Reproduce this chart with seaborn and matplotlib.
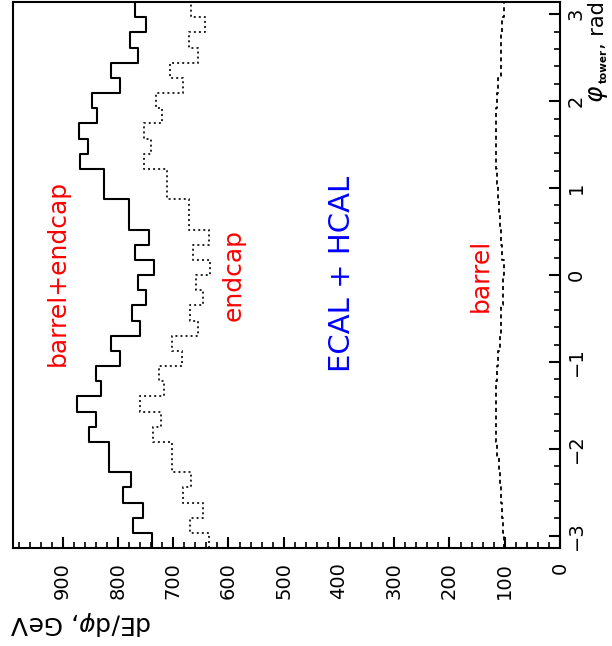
import numpy as np
import pandas as pd
import matplotlib
matplotlib.use("Agg")
import matplotlib.pyplot as plt
import seaborn as sns

# ---- data (36 phi bins, from -pi to +pi) ----
n_bins = 36
total = [738, 772, 754, 791, 777, 816, 816, 853, 839, 874, 830, 839, 797, 812, 761, 774, 750, 764,
         735, 770, 743, 780, 780, 826, 826, 868, 854, 870, 838, 847, 796, 812, 764, 779, 749, 770]
endcap = [636, 670, 647, 682, 668, 703, 703, 737, 723, 761, 716, 725, 685, 703, 655, 670, 646, 658,
          634, 665, 636, 671, 671, 712, 712, 753, 740, 753, 721, 732, 682, 705, 655, 671, 643, 668]
barrel = [101, 103, 105, 107, 109, 111, 114, 116, 116, 116, 115, 114, 112, 109, 107, 106, 104, 103,
          101, 105, 106, 108, 110, 113, 114, 115, 115, 115, 115, 114, 112, 106, 106, 106, 105, 102]
value_ticks = [0, 100, 200, 300, 400, 500, 600, 700, 800, 900]
phi_ticks = [-3, -2, -1, 0, 1, 2, 3]

edges = [float(e) for e in np.linspace(-np.pi, np.pi, n_bins + 1)]
centers = [0.5 * (edges[i] + edges[i + 1]) for i in range(n_bins)]

sns.set_style("white")
plt.rcParams["font.family"] = ["DejaVu Sans"]
plt.rcParams["mathtext.fontset"] = "dejavusans"
plt.rcParams["text.color"] = "black"
plt.rcParams["xtick.color"] = "black"
plt.rcParams["ytick.color"] = "black"
plt.rcParams["xtick.labelcolor"] = "black"
plt.rcParams["ytick.labelcolor"] = "black"

W, H = 612, 646
fig = plt.figure(figsize=(W / 100, H / 100), dpi=100)
ax = fig.add_axes([13 / W, (H - 548) / H, (560 - 13) / W, (548 - 2) / H])

df = pd.DataFrame({"phi": centers, "total": total, "endcap": endcap, "barrel": barrel})

sns.histplot(data=df, y="phi", weights="total", bins=edges, element="step", fill=False,
             color="black", linewidth=1.5, ax=ax)
sns.histplot(data=df, y="phi", weights="endcap", bins=edges, element="step", fill=False,
             color="#222222", linewidth=1.4, linestyle=(0, (1, 1.6)), ax=ax)
sns.histplot(data=df, y="phi", weights="barrel", bins=edges, element="step", fill=False,
             color="black", linewidth=1.3, linestyle=(0, (2.2, 2.0)), ax=ax)

ax.set_xlim(990, 0)
ax.set_ylim(-np.pi, np.pi)
ax.set_xlabel("")
ax.set_ylabel("")

for s in ax.spines.values():
    s.set_visible(True)
    s.set_linewidth(1.5)
    s.set_color("black")

ax.yaxis.tick_right()
ax.set_xticks(value_ticks)
ax.set_xticks(np.arange(0, 990, 20), minor=True)
ax.set_yticks(phi_ticks)
ax.set_yticks(np.arange(-3.0, 3.01, 0.2), minor=True)
ax.set_xticklabels([str(v) for v in value_ticks], rotation=90, fontsize=14, color="black")
ax.set_yticklabels([("\u2212" + str(-v)) if v < 0 else str(v) for v in phi_ticks],
                   rotation=90, fontsize=14, va="center", color="black")
ax.tick_params(axis="x", which="major", direction="in", length=8, width=1.5, pad=10,
               bottom=True, top=False)
ax.tick_params(axis="x", which="minor", direction="in", length=4, width=1.2,
               bottom=True, top=False)
ax.tick_params(axis="y", which="major", direction="in", length=8, width=1.5, pad=5,
               right=True, left=False, labelright=True, labelleft=False)
ax.tick_params(axis="y", which="minor", direction="in", length=4, width=1.2,
               right=True, left=False)

# annotations (rotated, like the reference)
ax.text(909, 0.02, "barrel+endcap", color="red", fontsize=18, rotation=90,
        ha="center", va="center")
ax.text(591, 0.0, "endcap", color="red", fontsize=18, rotation=90,
        ha="center", va="center")
ax.text(395, 0.01, "ECAL + HCAL", color="blue", fontsize=21, rotation=90,
        ha="center", va="center")
ax.text(143, -0.01, "barrel", color="red", fontsize=18, rotation=90,
        ha="center", va="center")

# axis titles
fig.text(10 / W, 1 - 623 / H, r"dE/d$\varphi$, GeV", fontsize=18, rotation=180,
         ha="left", va="center", color="black")
fig.text(598 / W, 1 - 1 / H, ", rad", fontsize=15, rotation=90,
         ha="center", va="top", color="black")
fig.text(604 / W, 1 - 49 / H, "tower", fontsize=7.5, fontweight="bold", rotation=90,
         ha="center", va="top", color="black")
fig.text(598 / W, 1 - 85 / H, r"$\varphi$", fontsize=18, rotation=90,
         ha="center", va="top", color="black")

fig.savefig("out.png", dpi=100)
